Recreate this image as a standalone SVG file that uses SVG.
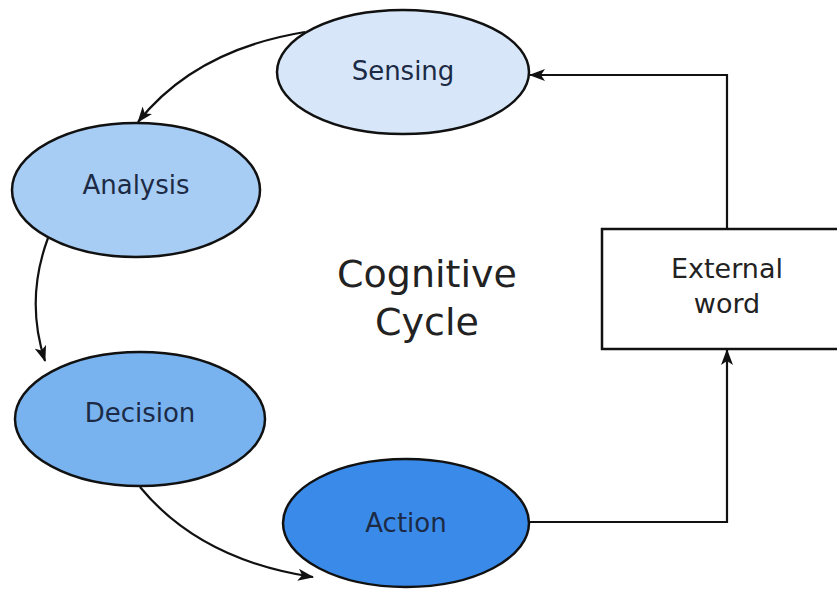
<svg xmlns="http://www.w3.org/2000/svg" width="837" height="589" viewBox="0 0 837 589">
<defs>
<marker id="ah" viewBox="0 0 16 12" refX="15" refY="6" markerWidth="16" markerHeight="12" markerUnits="userSpaceOnUse" orient="auto">
<path d="M0,0 L16,6 L0,12 L4,6 Z" fill="#111"/>
</marker>
<style>
.node{stroke:#111;stroke-width:2.5}
.lbl{font-family:"DejaVu Sans",sans-serif;font-size:26px;fill:#1c2a45;text-anchor:middle;dominant-baseline:central}
.ext{font-family:"DejaVu Sans",sans-serif;font-size:27px;fill:#222;text-anchor:middle;dominant-baseline:central}
.title{font-family:"DejaVu Sans",sans-serif;font-size:38px;fill:#222;text-anchor:middle}
.conn{fill:none;stroke:#111;stroke-width:2.2;marker-end:url(#ah)}
</style>
</defs>
<rect width="837" height="589" fill="#fff"/>
<g id="connectors">
<path class="conn" d="M305,32 Q195,50 138,122"/>
<path class="conn" d="M48,238 Q25,300 45,361"/>
<path class="conn" d="M140,487 Q200,560 313,577"/>
<path class="conn" d="M727,229 L727,75 L530,75"/>
<path class="conn" d="M530,522 L727,522 L727,350"/>
</g>
<g id="sensing">
<ellipse class="node" cx="403" cy="72" rx="126" ry="62" fill="#d7e7f9"/>
<text class="lbl" x="403" y="71">Sensing</text>
</g>
<g id="analysis">
<ellipse class="node" cx="136" cy="190" rx="124" ry="67" fill="#a8cdf4"/>
<text class="lbl" x="136" y="185">Analysis</text>
</g>
<g id="decision">
<ellipse class="node" cx="140" cy="419" rx="125" ry="67" fill="#78b3f0"/>
<text class="lbl" x="140" y="413">Decision</text>
</g>
<g id="action">
<ellipse class="node" cx="406" cy="523" rx="123" ry="64" fill="#3a8be9"/>
<text class="lbl" x="406" y="523">Action</text>
</g>
<g id="external">
<rect class="node" x="602" y="229" width="240" height="120" fill="#fff"/>
<text class="ext" x="727" y="268">External</text>
<text class="ext" x="727" y="303">word</text>
</g>
<g id="title">
<text class="title" x="427" y="287">Cognitive</text>
<text class="title" x="427" y="335">Cycle</text>
</g>
</svg>
